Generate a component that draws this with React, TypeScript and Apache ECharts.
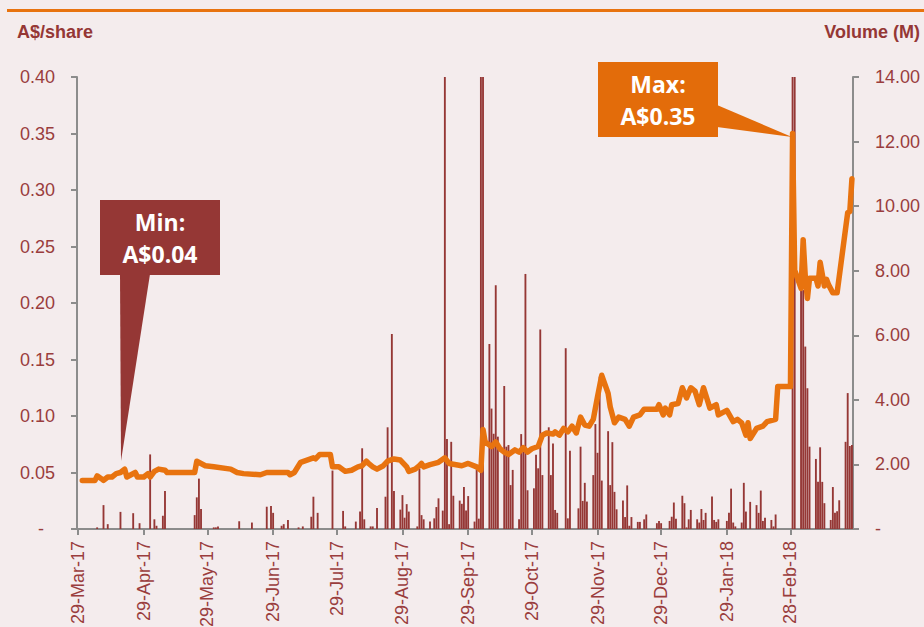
import React, { useEffect, useRef } from 'react';
import * as echarts from 'echarts';

// ---------- data ----------
const axisStart = '2017-03-29';
const axisEnd = '2018-03-29';

const tickDates = [
  '2017-03-29', '2017-04-29', '2017-05-29', '2017-06-29', '2017-07-29', '2017-08-29',
  '2017-09-29', '2017-10-29', '2017-11-29', '2017-12-29', '2018-01-29', '2018-02-28',
];

const priceTicks = [0, 0.05, 0.1, 0.15, 0.2, 0.25, 0.3, 0.35, 0.4];
const volumeTicks = [0, 2, 4, 6, 8, 10, 12, 14];

// share price (A$) – date, close
const priceSeries: [string, number][] = [
  ['2017-03-31', 0.043], ['2017-04-06', 0.043], ['2017-04-07', 0.047], ['2017-04-09', 0.0445],
  ['2017-04-10', 0.043], ['2017-04-12', 0.046], ['2017-04-14', 0.046], ['2017-04-16', 0.049],
  ['2017-04-18', 0.050], ['2017-04-20', 0.053], ['2017-04-21', 0.046], ['2017-04-23', 0.048],
  ['2017-04-25', 0.050], ['2017-04-26', 0.046], ['2017-04-29', 0.046], ['2017-05-01', 0.049],
  ['2017-05-02', 0.046], ['2017-05-04', 0.051], ['2017-05-06', 0.053], ['2017-05-09', 0.052],
  ['2017-05-10', 0.050], ['2017-05-23', 0.050], ['2017-05-24', 0.060], ['2017-05-26', 0.058],
  ['2017-05-28', 0.056], ['2017-06-01', 0.055], ['2017-06-09', 0.053], ['2017-06-12', 0.050],
  ['2017-06-15', 0.049], ['2017-06-23', 0.048], ['2017-06-26', 0.050], ['2017-07-06', 0.050],
  ['2017-07-07', 0.048], ['2017-07-09', 0.050], ['2017-07-12', 0.059], ['2017-07-15', 0.061],
  ['2017-07-18', 0.063], ['2017-07-19', 0.062], ['2017-07-21', 0.066], ['2017-07-26', 0.066],
  ['2017-07-27', 0.055], ['2017-07-30', 0.055], ['2017-08-02', 0.051], ['2017-08-05', 0.052],
  ['2017-08-08', 0.055], ['2017-08-10', 0.056], ['2017-08-12', 0.060], ['2017-08-13', 0.058],
  ['2017-08-15', 0.055], ['2017-08-17', 0.053], ['2017-08-20', 0.056], ['2017-08-22', 0.060],
  ['2017-08-25', 0.062], ['2017-08-28', 0.061], ['2017-08-31', 0.055], ['2017-09-01', 0.051],
  ['2017-09-04', 0.053], ['2017-09-06', 0.056], ['2017-09-07', 0.058], ['2017-09-08', 0.055],
  ['2017-09-11', 0.057], ['2017-09-15', 0.059], ['2017-09-18', 0.063], ['2017-09-20', 0.058],
  ['2017-09-26', 0.056], ['2017-09-29', 0.058], ['2017-10-03', 0.055], ['2017-10-05', 0.052],
  ['2017-10-06', 0.088], ['2017-10-07', 0.077], ['2017-10-10', 0.073], ['2017-10-12', 0.077],
  ['2017-10-14', 0.071], ['2017-10-16', 0.068], ['2017-10-18', 0.066], ['2017-10-21', 0.070],
  ['2017-10-23', 0.068], ['2017-10-25', 0.072], ['2017-10-27', 0.068], ['2017-10-29', 0.071],
  ['2017-11-01', 0.073], ['2017-11-03', 0.083], ['2017-11-05', 0.085], ['2017-11-08', 0.084],
  ['2017-11-09', 0.086], ['2017-11-11', 0.083], ['2017-11-13', 0.089], ['2017-11-15', 0.086],
  ['2017-11-17', 0.091], ['2017-11-19', 0.085], ['2017-11-21', 0.099], ['2017-11-23', 0.092],
  ['2017-11-25', 0.091], ['2017-11-27', 0.097], ['2017-11-29', 0.117], ['2017-12-01', 0.136],
  ['2017-12-04', 0.120], ['2017-12-05', 0.108], ['2017-12-07', 0.094], ['2017-12-09', 0.099],
  ['2017-12-12', 0.097], ['2017-12-14', 0.091], ['2017-12-16', 0.099], ['2017-12-19', 0.101],
  ['2017-12-21', 0.106], ['2017-12-27', 0.106], ['2017-12-28', 0.110], ['2017-12-30', 0.101],
  ['2017-12-31', 0.107], ['2018-01-02', 0.101], ['2018-01-03', 0.110], ['2018-01-06', 0.111],
  ['2018-01-08', 0.125], ['2018-01-10', 0.116], ['2018-01-12', 0.125], ['2018-01-14', 0.122],
  ['2018-01-16', 0.110], ['2018-01-18', 0.125], ['2018-01-19', 0.119], ['2018-01-21', 0.107],
  ['2018-01-24', 0.110], ['2018-01-25', 0.101], ['2018-01-29', 0.105], ['2018-02-01', 0.095],
  ['2018-02-03', 0.097], ['2018-02-05', 0.094], ['2018-02-07', 0.083], ['2018-02-08', 0.094],
  ['2018-02-09', 0.080], ['2018-02-12', 0.089], ['2018-02-15', 0.091], ['2018-02-17', 0.095],
  ['2018-02-21', 0.097], ['2018-02-22', 0.126], ['2018-02-28', 0.126], ['2018-03-01', 0.350],
  ['2018-03-02', 0.229], ['2018-03-05', 0.213], ['2018-03-06', 0.256], ['2018-03-07', 0.223],
  ['2018-03-08', 0.204], ['2018-03-09', 0.222], ['2018-03-12', 0.222], ['2018-03-13', 0.215],
  ['2018-03-14', 0.236], ['2018-03-16', 0.215], ['2018-03-17', 0.221], ['2018-03-18', 0.216],
  ['2018-03-20', 0.209], ['2018-03-22', 0.209], ['2018-03-27', 0.280], ['2018-03-28', 0.281],
  ['2018-03-29', 0.310],
];

// daily volume (M shares) – date, volume
const volumeSeries: [string, number][] = [
  ['2017-04-07', 0.05], ['2017-04-10', 0.74], ['2017-04-12', 0.15], ['2017-04-18', 0.53],
  ['2017-04-24', 0.49], ['2017-04-27', 0.18], ['2017-05-02', 2.31], ['2017-05-04', 0.30],
  ['2017-05-05', 0.10], ['2017-05-08', 0.41], ['2017-05-09', 1.18], ['2017-05-23', 0.43],
  ['2017-05-24', 0.98], ['2017-05-25', 1.56], ['2017-05-26', 0.62], ['2017-06-01', 0.05],
  ['2017-06-02', 0.05], ['2017-06-03', 0.08], ['2017-06-13', 0.24], ['2017-06-19', 0.20],
  ['2017-06-26', 0.69], ['2017-06-28', 0.71], ['2017-06-29', 0.50], ['2017-07-03', 0.10],
  ['2017-07-04', 0.15], ['2017-07-06', 0.28], ['2017-07-11', 0.05], ['2017-07-13', 0.08],
  ['2017-07-17', 0.38], ['2017-07-18', 1.00], ['2017-07-20', 0.50], ['2017-07-27', 1.81],
  ['2017-08-01', 0.56], ['2017-08-02', 0.08], ['2017-08-07', 0.23], ['2017-08-09', 0.54],
  ['2017-08-10', 2.50], ['2017-08-11', 0.30], ['2017-08-14', 0.08], ['2017-08-15', 0.08],
  ['2017-08-17', 0.65], ['2017-08-21', 1.00], ['2017-08-22', 3.15], ['2017-08-24', 6.04],
  ['2017-08-25', 1.18], ['2017-08-28', 0.60], ['2017-08-29', 1.05], ['2017-08-30', 0.35],
  ['2017-08-31', 0.77], ['2017-09-01', 0.54], ['2017-09-05', 0.08], ['2017-09-06', 1.87],
  ['2017-09-07', 0.43], ['2017-09-08', 0.30], ['2017-09-11', 0.23], ['2017-09-13', 0.33],
  ['2017-09-14', 0.68], ['2017-09-15', 0.95], ['2017-09-17', 0.57], ['2017-09-18', 18.0],
  ['2017-09-19', 2.79], ['2017-09-20', 0.15], ['2017-09-21', 2.70], ['2017-09-22', 1.03],
  ['2017-09-25', 0.88], ['2017-09-26', 0.78], ['2017-09-27', 1.30], ['2017-09-28', 0.57],
  ['2017-09-29', 1.02], ['2017-10-02', 0.23], ['2017-10-03', 1.85], ['2017-10-04', 0.32],
  ['2017-10-05', 18.0], ['2017-10-06', 18.0], ['2017-10-09', 5.73], ['2017-10-10', 3.73],
  ['2017-10-11', 2.95], ['2017-10-12', 7.55], ['2017-10-13', 2.86], ['2017-10-16', 4.43],
  ['2017-10-17', 2.55], ['2017-10-18', 2.60], ['2017-10-19', 1.36], ['2017-10-20', 1.83],
  ['2017-10-23', 0.30], ['2017-10-24', 2.94], ['2017-10-25', 2.55], ['2017-10-26', 7.90],
  ['2017-10-27', 1.20], ['2017-10-30', 1.26], ['2017-10-31', 2.30], ['2017-11-01', 1.88],
  ['2017-11-02', 6.18], ['2017-11-03', 1.67], ['2017-11-06', 3.15], ['2017-11-07', 1.67],
  ['2017-11-08', 2.65], ['2017-11-09', 0.59], ['2017-11-10', 0.50], ['2017-11-14', 5.60],
  ['2017-11-15', 0.33], ['2017-11-16', 2.42], ['2017-11-20', 0.64], ['2017-11-21', 2.55],
  ['2017-11-22', 0.87], ['2017-11-23', 1.43], ['2017-11-24', 0.85], ['2017-11-27', 1.67],
  ['2017-11-28', 3.25], ['2017-11-29', 2.36], ['2017-11-30', 4.72], ['2017-12-01', 1.50],
  ['2017-12-04', 3.03], ['2017-12-05', 1.36], ['2017-12-06', 2.69], ['2017-12-07', 1.15],
  ['2017-12-08', 0.61], ['2017-12-11', 0.88], ['2017-12-12', 0.37], ['2017-12-13', 1.35],
  ['2017-12-14', 0.10], ['2017-12-15', 0.37], ['2017-12-18', 0.22], ['2017-12-19', 0.22],
  ['2017-12-21', 0.30], ['2017-12-22', 0.45], ['2017-12-27', 0.18], ['2017-12-28', 0.25],
  ['2017-12-29', 0.18], ['2018-01-02', 0.25], ['2018-01-03', 0.38], ['2018-01-04', 0.82],
  ['2018-01-05', 0.32], ['2018-01-08', 1.03], ['2018-01-09', 0.80], ['2018-01-10', 0.05],
  ['2018-01-11', 0.30], ['2018-01-12', 0.59], ['2018-01-15', 0.30], ['2018-01-16', 0.20],
  ['2018-01-17', 0.62], ['2018-01-18', 0.28], ['2018-01-19', 0.50], ['2018-01-22', 1.01],
  ['2018-01-23', 0.28], ['2018-01-24', 0.22], ['2018-01-25', 0.30], ['2018-01-29', 0.25],
  ['2018-01-30', 0.50], ['2018-01-31', 1.25], ['2018-02-01', 0.20], ['2018-02-02', 0.08],
  ['2018-02-05', 0.20], ['2018-02-06', 1.43], ['2018-02-07', 0.54], ['2018-02-09', 0.84],
  ['2018-02-12', 0.74], ['2018-02-13', 0.50], ['2018-02-14', 1.19], ['2018-02-15', 0.25],
  ['2018-02-16', 0.35], ['2018-02-19', 0.28], ['2018-02-20', 0.08], ['2018-02-21', 0.45],
  ['2018-03-01', 18.0], ['2018-03-02', 15.0], ['2018-03-05', 7.50], ['2018-03-06', 7.40],
  ['2018-03-07', 5.65], ['2018-03-08', 4.36], ['2018-03-09', 2.55], ['2018-03-12', 2.17],
  ['2018-03-13', 1.46], ['2018-03-14', 2.53], ['2018-03-15', 1.46], ['2018-03-16', 0.80],
  ['2018-03-19', 0.28], ['2018-03-20', 1.30], ['2018-03-21', 0.50], ['2018-03-22', 0.55],
  ['2018-03-23', 0.89], ['2018-03-26', 2.70], ['2018-03-27', 4.21], ['2018-03-28', 2.57],
  ['2018-03-29', 2.60],
];

const minLabel = ['Min:', 'A$0.04'];
const maxLabel = ['Max:', 'A$0.35'];
const leftAxisTitle = 'A$/share';
const rightAxisTitle = 'Volume (M)';

// ---------- helpers ----------
const MONTHS = ['Jan', 'Feb', 'Mar', 'Apr', 'May', 'Jun', 'Jul', 'Aug', 'Sep', 'Oct', 'Nov', 'Dec'];

function buildDays(start: string, end: string): string[] {
  const out: string[] = [];
  const d = new Date(start + 'T00:00:00Z');
  const e = new Date(end + 'T00:00:00Z');
  while (d.getTime() <= e.getTime()) {
    out.push(d.toISOString().slice(0, 10));
    d.setUTCDate(d.getUTCDate() + 1);
  }
  return out;
}

function fmtDate(s: string): string {
  const [y, m, d] = s.split('-');
  return `${Number(d)}-${MONTHS[Number(m) - 1]}-${y.slice(2)}`;
}

const days = buildDays(axisStart, axisEnd);
const tickSet = new Set(tickDates);

const RED = '#953735';
const LABEL = '#9a3d3d';
const ORANGE = '#E8730F';
const AXIS = '#8c8c8c';
const FONT = '"Liberation Sans", Arial, sans-serif';
const CALLOUT_FONT = 'bold 23px "Open Sans", "Noto Sans", sans-serif';

export default function App() {
  const ref = useRef<HTMLDivElement>(null);

  useEffect(() => {
    if (!ref.current) return;
    const chart = echarts.init(ref.current, undefined, { renderer: 'svg' });

    const option: any = {
      animation: false,
      backgroundColor: '#f4eced',
      grid: {
        left: 77, right: 71, top: 77, bottom: 98,
        containLabel: false,
        outerBoundsMode: 'none',
      },
      xAxis: {
        type: 'category',
        data: days,
        boundaryGap: true,
        axisLine: { show: true, lineStyle: { color: AXIS, width: 2 } },
        axisTick: {
          show: true,
          alignWithLabel: true,
          length: 6,
          interval: (_i: number, v: string) => tickSet.has(v),
          lineStyle: { color: AXIS, width: 2 },
        },
        axisLabel: {
          interval: (_i: number, v: string) => tickSet.has(v),
          rotate: 90,
          margin: 12,
          color: LABEL,
          fontSize: 18,
          fontFamily: FONT,
          formatter: (v: string) => fmtDate(v),
        },
        splitLine: { show: false },
      },
      yAxis: [
        {
          type: 'value',
          min: priceTicks[0],
          max: priceTicks[priceTicks.length - 1],
          interval: 0.05,
          position: 'left',
          axisLine: { show: true, lineStyle: { color: AXIS, width: 2 } },
          axisTick: { show: true, length: 6, lineStyle: { color: AXIS, width: 2 } },
          splitLine: { show: false },
          axisLabel: {
            margin: 22,
            color: LABEL,
            fontSize: 18,
            fontFamily: FONT,
            formatter: (v: number) => (v === 0 ? '{z|-}' : v.toFixed(2)),
            rich: { z: { padding: [0, 11, 0, 0], fontSize: 18, color: LABEL, fontFamily: FONT } },
          },
        },
        {
          type: 'value',
          min: volumeTicks[0],
          max: volumeTicks[volumeTicks.length - 1],
          interval: 2,
          position: 'right',
          axisLine: { show: true, lineStyle: { color: AXIS, width: 2 } },
          axisTick: { show: true, length: 6, lineStyle: { color: AXIS, width: 2 } },
          splitLine: { show: false },
          axisLabel: {
            margin: 22,
            color: LABEL,
            fontSize: 18,
            fontFamily: FONT,
            formatter: (v: number) => (v === 0 ? '-' : v.toFixed(2)),
          },
        },
      ],
      series: [
        {
          name: 'Volume',
          type: 'bar',
          yAxisIndex: 1,
          data: volumeSeries,
          barWidth: '88%',
          clip: true,
          itemStyle: { color: RED },
          z: 2,
        },
        {
          name: 'Price',
          type: 'line',
          yAxisIndex: 0,
          data: priceSeries,
          symbol: 'none',
          smooth: false,
          clip: true,
          lineStyle: { color: ORANGE, width: 5.5, cap: 'round', join: 'round' },
          z: 3,
        },
      ],
      graphic: [
        { type: 'rect', z: 100, shape: { x: 7, y: 9, width: 917, height: 3 }, style: { fill: ORANGE } },
        {
          type: 'text', z: 100, left: 17, top: 23,
          style: { text: leftAxisTitle, fill: RED, font: `bold 18px ${FONT}` },
        },
        {
          type: 'text', z: 100, right: 4, top: 23,
          style: { text: rightAxisTitle, fill: RED, font: `bold 18px ${FONT}` },
        },
        // Min callout
        { type: 'rect', z: 100, shape: { x: 100, y: 200, width: 120, height: 75 }, style: { fill: RED } },
        {
          type: 'polygon', z: 100,
          shape: { points: [[120, 274], [150, 274], [121, 461]] },
          style: { fill: RED },
        },
        {
          type: 'text', z: 101, x: 160, y: 222,
          style: { text: minLabel[0], fill: '#ffffff', font: CALLOUT_FONT, textAlign: 'center', textVerticalAlign: 'middle' },
        },
        {
          type: 'text', z: 101, x: 160, y: 254,
          style: { text: minLabel[1], fill: '#ffffff', font: CALLOUT_FONT, textAlign: 'center', textVerticalAlign: 'middle' },
        },
        // Max callout
        { type: 'rect', z: 100, shape: { x: 598, y: 62, width: 120, height: 75 }, style: { fill: '#E36C0A' } },
        {
          type: 'polygon', z: 100,
          shape: { points: [[717, 105], [717, 127], [792, 137]] },
          style: { fill: '#E36C0A' },
        },
        {
          type: 'text', z: 101, x: 658, y: 84,
          style: { text: maxLabel[0], fill: '#ffffff', font: CALLOUT_FONT, textAlign: 'center', textVerticalAlign: 'middle' },
        },
        {
          type: 'text', z: 101, x: 658, y: 116,
          style: { text: maxLabel[1], fill: '#ffffff', font: CALLOUT_FONT, textAlign: 'center', textVerticalAlign: 'middle' },
        },
      ],
    };

    chart.setOption(option);
    return () => chart.dispose();
  }, []);

  return (
    <div
      ref={ref}
      style={{ position: 'absolute', left: 0, top: 0, width: 924, height: 627 }}
    />
  );
}
